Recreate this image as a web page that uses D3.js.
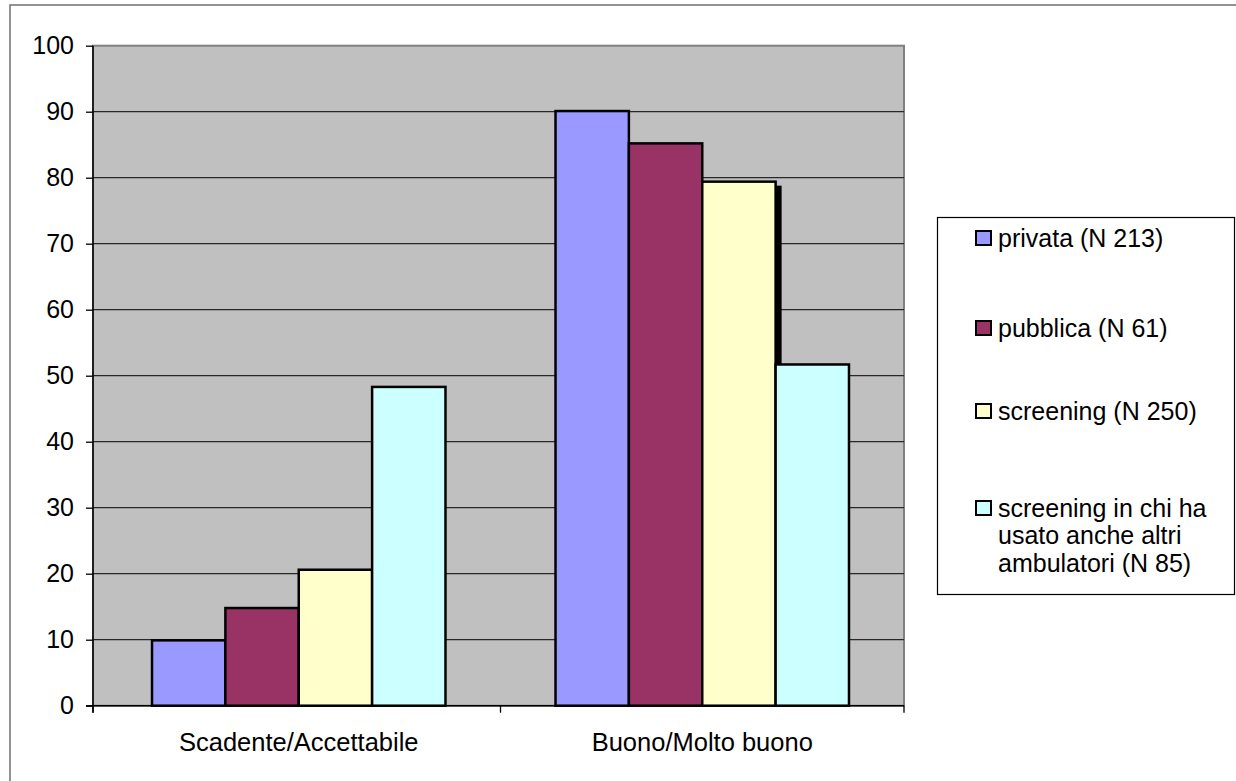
<!DOCTYPE html>
<html><head><meta charset="utf-8">
<script src="https://cdn.jsdelivr.net/npm/d3@7"></script>
<style>body{margin:0;background:#fff}svg{display:block}</style>
</head><body>
<svg id="c" width="1236" height="781"></svg>
<script>
const categories = ["Scadente/Accettabile", "Buono/Molto buono"];
const seriesNames = ["privata (N 213)", "pubblica (N 61)", "screening (N 250)", "screening in chi ha|usato anche altri|ambulatori (N 85)"];
const privata = [9.9, 90.1];
const pubblica = [14.8, 85.2];
const screening = [20.6, 79.4];
const screeningAltri = [48.3, 51.7];
const yTicks = [0, 10, 20, 30, 40, 50, 60, 70, 80, 90, 100];
const colors = ["#9999FF", "#993366", "#FFFFCC", "#CCFFFF"];

const series = [privata, pubblica, screening, screeningAltri];
const svg = d3.select("#c");
const font = "'Liberation Sans', Arial, sans-serif";
const L = 93, R = 904, T = 45.7, B = 705.7;

// outer frame
svg.append("rect").attr("x", 10).attr("y", 5).attr("width", 1300).attr("height", 900)
  .attr("fill", "none").attr("stroke", "#707070").attr("stroke-width", 1.5);

const x0 = d3.scaleBand().domain(categories).range([L + 4, R]);
const x1 = d3.scaleBand().domain(d3.range(series.length)).range([0, x0.bandwidth()]).paddingOuter(0.75);
const y = d3.scaleLinear().domain([0, 100]).range([B, T]);

// plot background
svg.append("rect").attr("x", L).attr("y", T).attr("width", R - L).attr("height", B - T)
  .attr("fill", "#C0C0C0").attr("stroke", "#808080").attr("stroke-width", 2);

// gridlines
svg.append("g").selectAll("line").data(yTicks.filter(d => d > 0 && d < 100)).join("line")
  .attr("x1", L).attr("x2", R).attr("y1", d => y(d)).attr("y2", d => y(d))
  .attr("stroke", "#282828").attr("stroke-width", 1.3);

// bars
const bw = x1.bandwidth();
series.forEach((vals, si) => {
  const g = svg.append("g");
  vals.forEach((v, ci) => {
    const bx = x0(categories[ci]) + x1(si);
    if (si === 2 && ci === 1) {
      g.append("rect").attr("x", bx + 6).attr("y", y(v) + 4).attr("width", bw).attr("height", B - y(v) - 4)
        .attr("fill", "#000");
    }
    g.append("rect").attr("x", bx).attr("y", y(v)).attr("width", bw).attr("height", B - y(v))
      .attr("fill", colors[si]).attr("stroke", "#000").attr("stroke-width", 2.5);
  });
});

// y axis
const ya = svg.append("g").attr("transform", `translate(${L},0)`)
  .call(d3.axisLeft(y).tickValues(yTicks).tickSize(7).tickPadding(12).tickSizeOuter(0));
ya.select(".domain").remove();
ya.selectAll("line").attr("stroke", "#000").attr("stroke-width", 1.3);
ya.selectAll("text").attr("font-family", font).attr("font-size", 25).attr("fill", "#000");
svg.append("line").attr("x1", L).attr("x2", L).attr("y1", T).attr("y2", B + 7)
  .attr("stroke", "#000").attr("stroke-width", 1.5);

// x axis
svg.append("line").attr("x1", L - 7).attr("x2", R).attr("y1", B).attr("y2", B)
  .attr("stroke", "#000").attr("stroke-width", 1.5);
const xb = [L, x0(categories[1]), R];
svg.append("g").selectAll("line").data(xb).join("line")
  .attr("x1", d => d).attr("x2", d => d).attr("y1", B).attr("y2", B + 7)
  .attr("stroke", "#000").attr("stroke-width", 1.3);
svg.append("g").selectAll("text").data(categories).join("text")
  .attr("x", d => x0(d) + x0.bandwidth() / 2).attr("y", 742).attr("dy", "0.35em")
  .attr("text-anchor", "middle").attr("font-family", font).attr("font-size", 25.5).attr("fill", "#000")
  .text(d => d);

// legend
svg.append("rect").attr("x", 937.5).attr("y", 217.5).attr("width", 297).attr("height", 377)
  .attr("fill", "#fff").attr("stroke", "#000").attr("stroke-width", 1.2);
const legY = [238, 328, 411, 508];
seriesNames.forEach((name, i) => {
  svg.append("rect").attr("x", 976).attr("y", legY[i] - 7).attr("width", 15).attr("height", 14)
    .attr("fill", colors[i]).attr("stroke", "#000").attr("stroke-width", 2);
  const t = svg.append("text").attr("x", 998).attr("y", legY[i]).attr("font-family", font)
    .attr("font-size", 25).attr("fill", "#000");
  name.split("|").forEach((ln, k) => {
    t.append("tspan").attr("x", 998).attr("dy", k === 0 ? "0.35em" : 27.5).text(ln);
  });
});
</script>
</body></html>
